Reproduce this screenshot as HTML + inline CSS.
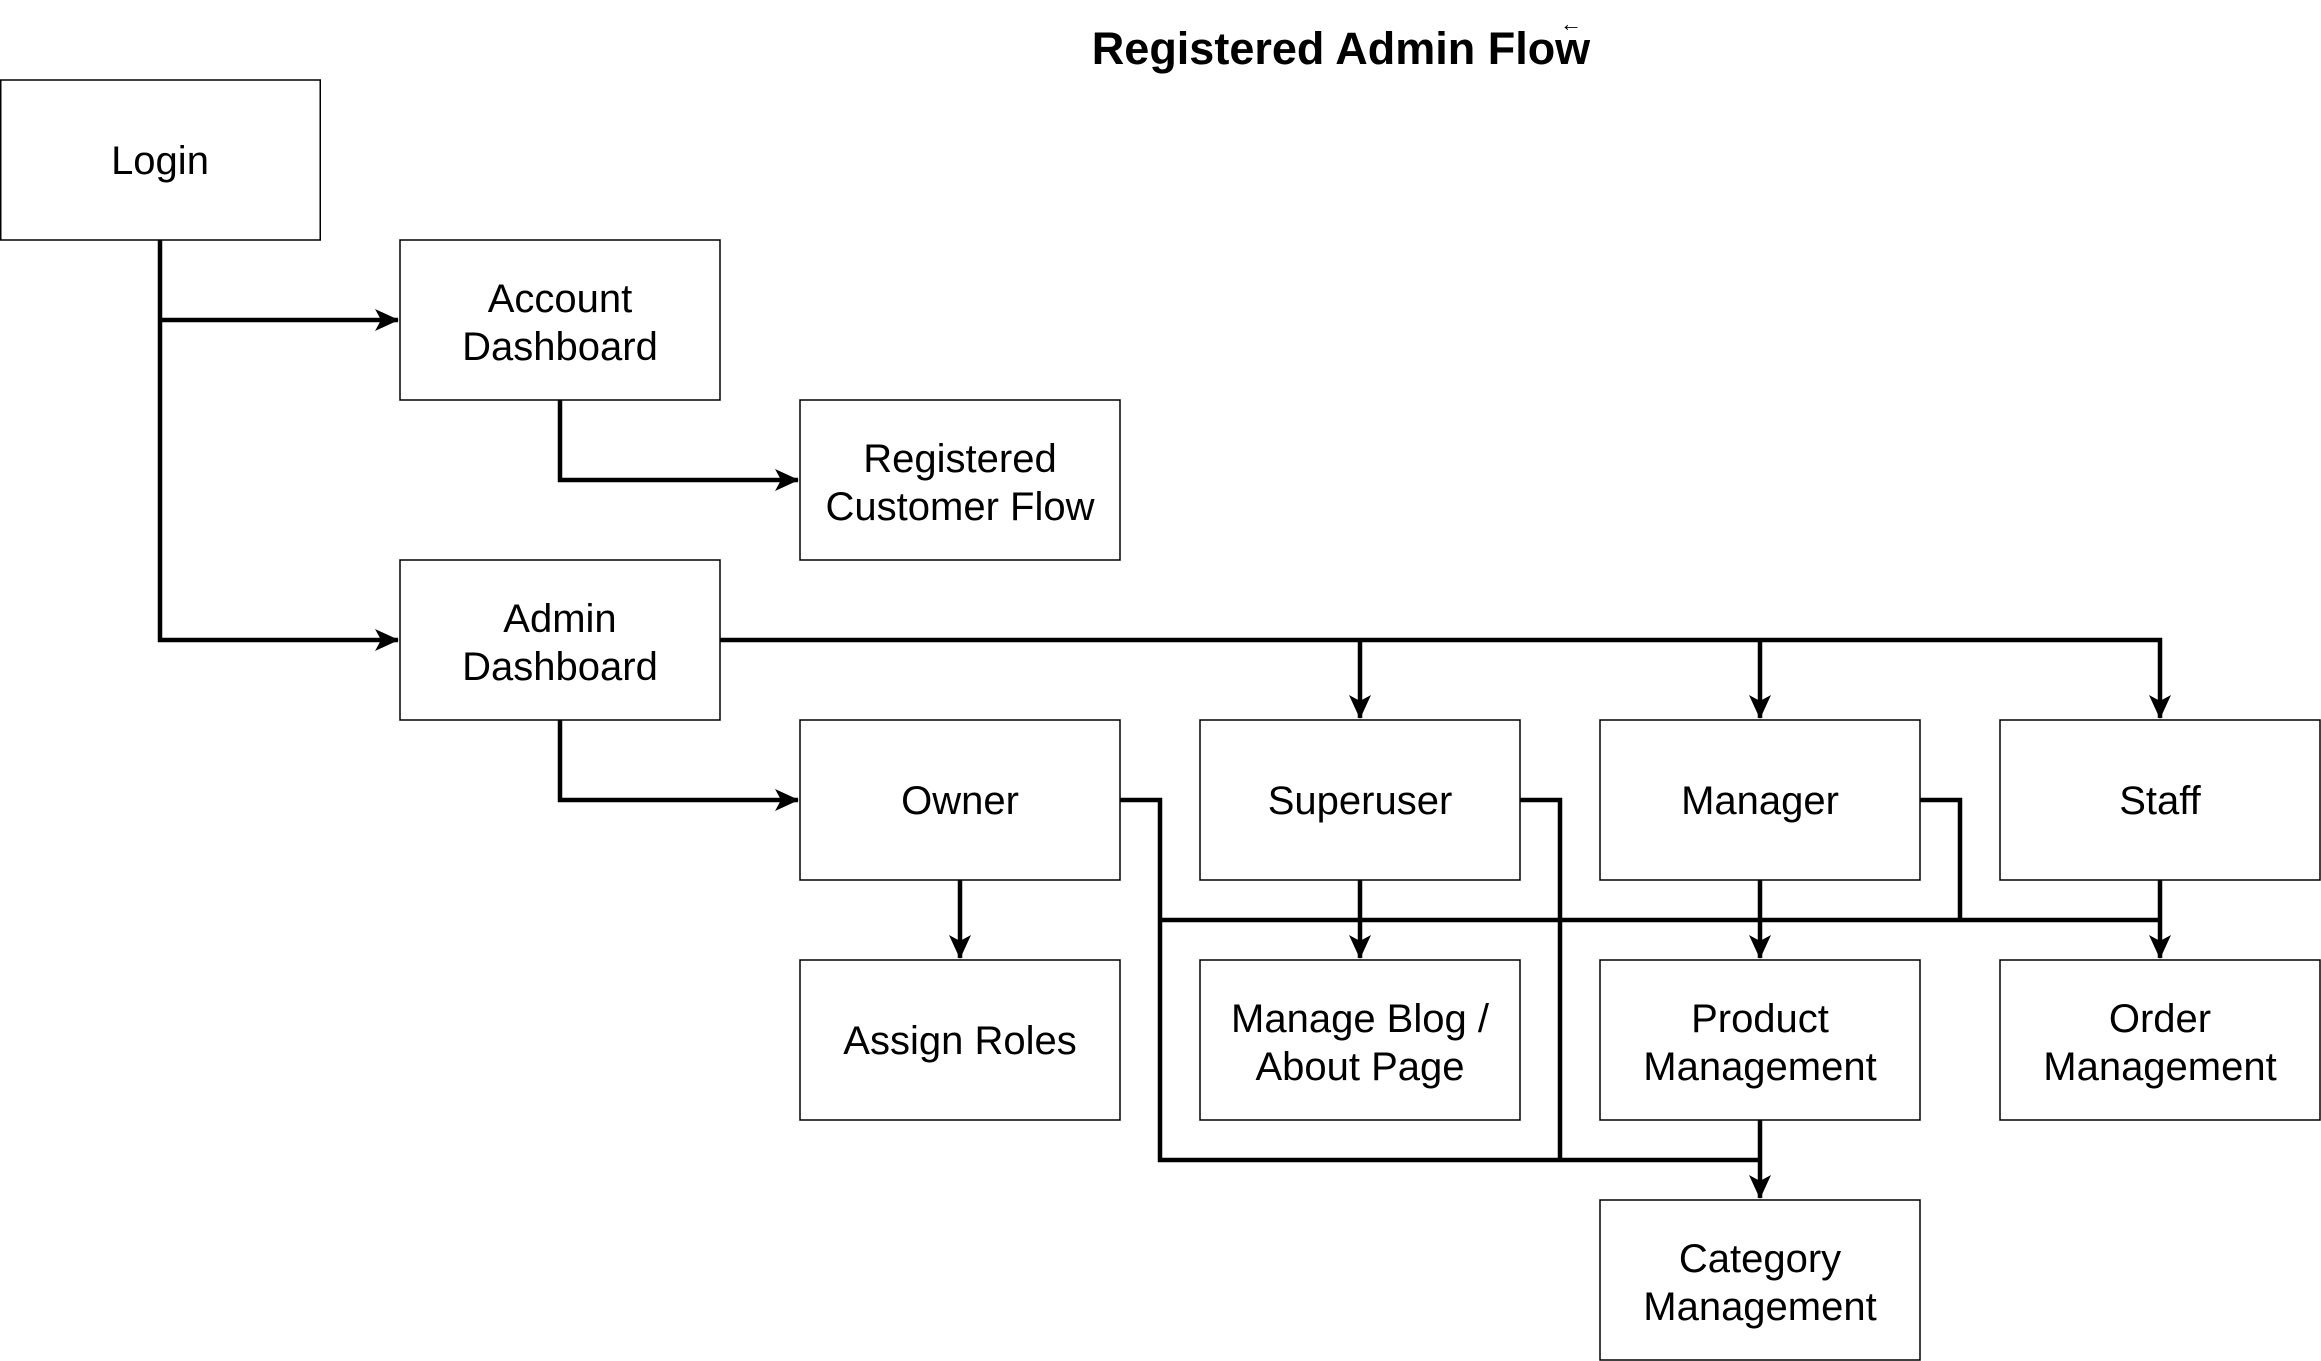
<!DOCTYPE html>
<html><head><style>body{margin:0;background:#fff}svg{display:block}</style></head><body>
<svg width="2321" height="1361" viewBox="0 0 2321 1361" xmlns="http://www.w3.org/2000/svg">
<defs>
<marker id="b" viewBox="0 0 24 24" refX="23" refY="12" markerWidth="24" markerHeight="24" orient="auto" markerUnits="userSpaceOnUse"><path d="M0,1 L24,12 L0,23 L6,12 Z" fill="#000"/></marker></defs>
<g font-family="Liberation Sans, sans-serif" text-anchor="middle">
<text x="1341" y="64" font-size="45" font-weight="bold">Registered Admin Flow</text>
<text x="1571" y="31" font-size="22">←</text>
</g>
<g fill="none" stroke="#000" stroke-width="4.5">
<path d="M160 240 V640 H398" marker-end="url(#b)"/>
<path d="M160 320 H398" marker-end="url(#b)"/>
<path d="M560 400 V480 H798" marker-end="url(#b)"/>
<path d="M560 720 V800 H798" marker-end="url(#b)"/>
<path d="M720 640 H2160 V718" marker-end="url(#b)"/>
<path d="M1360 640 V718" marker-end="url(#b)"/>
<path d="M1760 640 V718" marker-end="url(#b)"/>
<path d="M960 880 V958" marker-end="url(#b)"/>
<path d="M1360 880 V958" marker-end="url(#b)"/>
<path d="M1760 880 V958" marker-end="url(#b)"/>
<path d="M2160 880 V958" marker-end="url(#b)"/>
<path d="M1120 800 H1160 V1160 H1760"/>
<path d="M1520 800 H1560 V1160"/>
<path d="M1920 800 H1960 V920"/>
<path d="M1160 920 H2160"/>
<path d="M1760 1120 V1198" marker-end="url(#b)"/>
</g>
<g fill="#fff" stroke="#000" stroke-width="1.5">
<rect x="0.75" y="80" width="319.5" height="160"/>
<rect x="400" y="240" width="320" height="160"/>
<rect x="800" y="400" width="320" height="160"/>
<rect x="400" y="560" width="320" height="160"/>
<rect x="800" y="720" width="320" height="160"/>
<rect x="1200" y="720" width="320" height="160"/>
<rect x="1600" y="720" width="320" height="160"/>
<rect x="2000" y="720" width="320" height="160"/>
<rect x="800" y="960" width="320" height="160"/>
<rect x="1200" y="960" width="320" height="160"/>
<rect x="1600" y="960" width="320" height="160"/>
<rect x="2000" y="960" width="320" height="160"/>
<rect x="1600" y="1200" width="320" height="160"/>
</g>
<g font-family="Liberation Sans, sans-serif" font-size="40" text-anchor="middle">
<text x="160" y="174">Login</text>
<text x="560" y="312">Account</text><text x="560" y="360">Dashboard</text>
<text x="960" y="472">Registered</text><text x="960" y="520">Customer Flow</text>
<text x="560" y="632">Admin</text><text x="560" y="680">Dashboard</text>
<text x="960" y="814">Owner</text>
<text x="1360" y="814">Superuser</text>
<text x="1760" y="814">Manager</text>
<text x="2160" y="814">Staff</text>
<text x="960" y="1054">Assign Roles</text>
<text x="1360" y="1032">Manage Blog /</text><text x="1360" y="1080">About Page</text>
<text x="1760" y="1032">Product</text><text x="1760" y="1080">Management</text>
<text x="2160" y="1032">Order</text><text x="2160" y="1080">Management</text>
<text x="1760" y="1272">Category</text><text x="1760" y="1320">Management</text>
</g>
</svg>
</body></html>
